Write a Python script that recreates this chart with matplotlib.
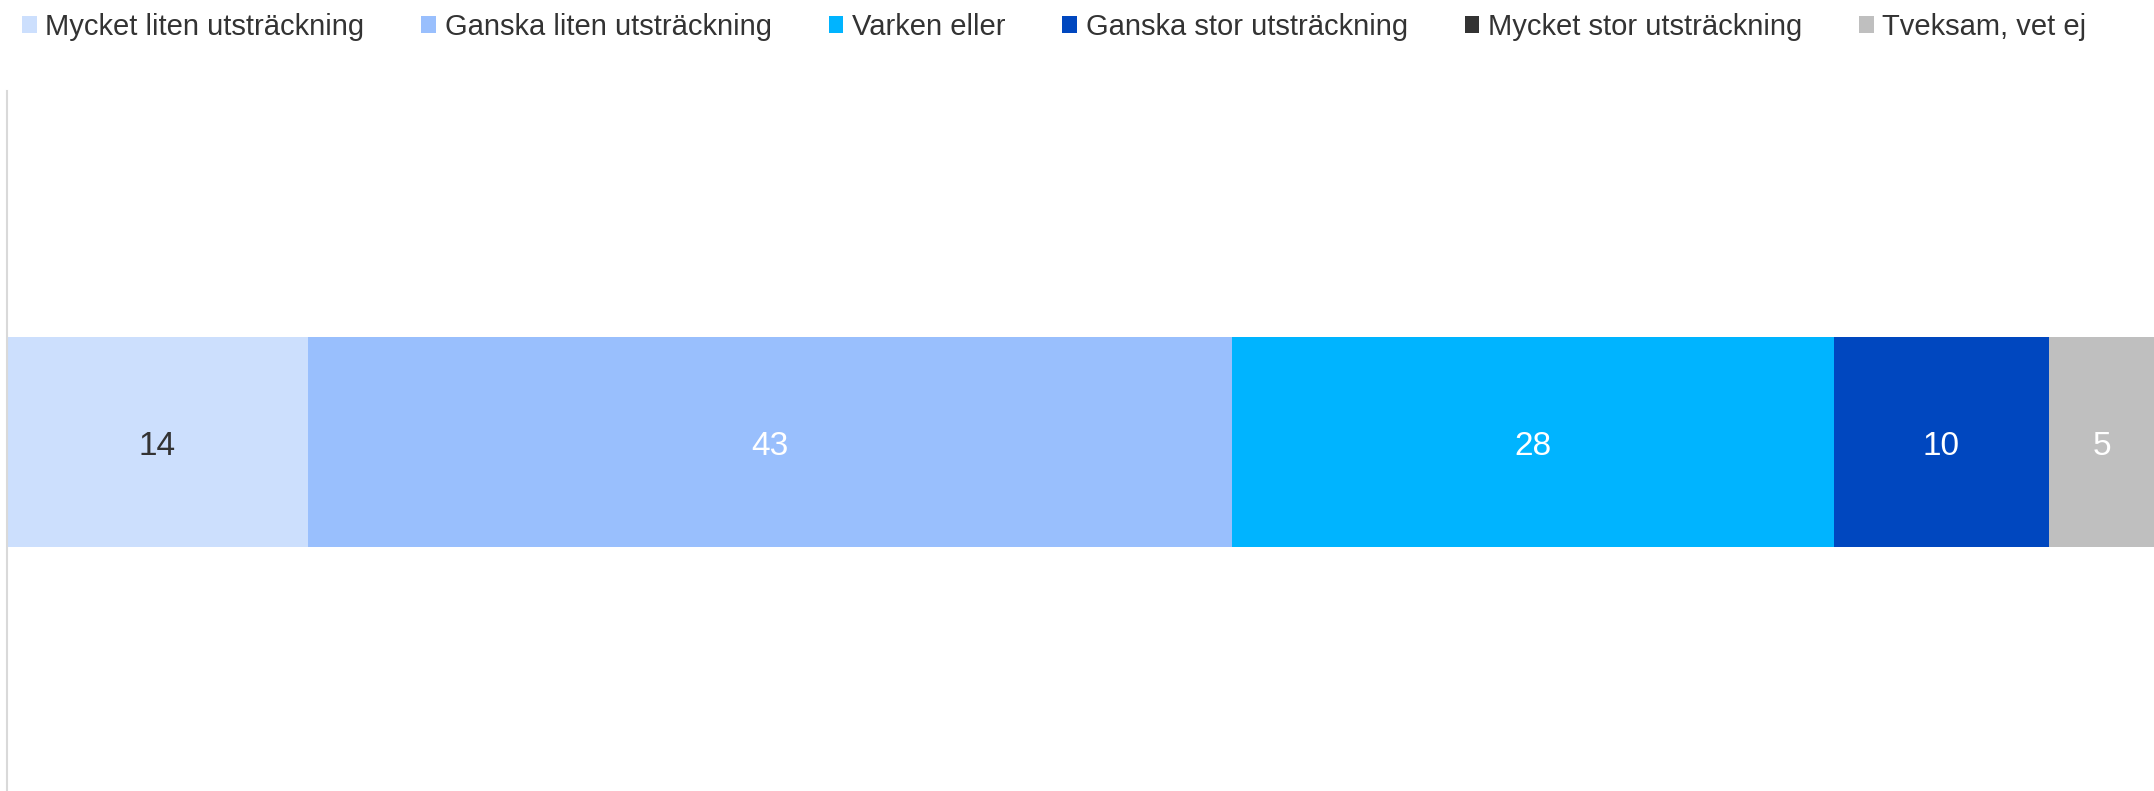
import matplotlib
matplotlib.use("Agg")
import matplotlib.pyplot as plt

plt.rcParams['font.family'] = ['Liberation Sans', 'DejaVu Sans']

categories = ["Mycket liten utsträckning", "Ganska liten utsträckning", "Varken eller",
              "Ganska stor utsträckning", "Mycket stor utsträckning", "Tveksam, vet ej"]
values = [14, 43, 28, 10, 0, 5]
colors = ["#CCDFFD", "#99BFFD", "#00B4FF", "#0047BF", "#333333", "#BFBFBF"]
label_colors = ["#333333", "white", "white", "white", "white", "white"]

W, H = 2154, 791
fig = plt.figure(figsize=(W/100, H/100), dpi=100)
ax = fig.add_axes([7/W, -2/H, 2149/W, 702/H])

left = 0
handles = []
for cat, v, c, lc in zip(categories, values, colors, label_colors):
    b = ax.barh(0, v, left=left, height=0.3, color=c, label=cat, linewidth=0)
    handles.append(b)
    if v > 0:
        ax.text(left + v/2, -0.007, str(v), ha='center', va='center', fontsize=24, color=lc)
    left += v

ax.set_xlim(0, 100)
ax.set_ylim(-0.5, 0.5)
ax.set_xticks([])
ax.set_yticks([])
for s in ['top', 'right', 'bottom']:
    ax.spines[s].set_visible(False)
ax.spines['left'].set_color('#D9D9D9')
ax.spines['left'].set_linewidth(1.5)

fig.legend(handles=handles, labels=categories, loc='center left', bbox_to_anchor=(22/W, 1 - 27/H),
           ncol=6, frameon=False, fontsize=21, handlelength=0.5, handleheight=0.5,
           handletextpad=0.3, columnspacing=1.95, labelcolor='#333333', borderpad=0, borderaxespad=0)

fig.savefig("out.png", dpi=100)
